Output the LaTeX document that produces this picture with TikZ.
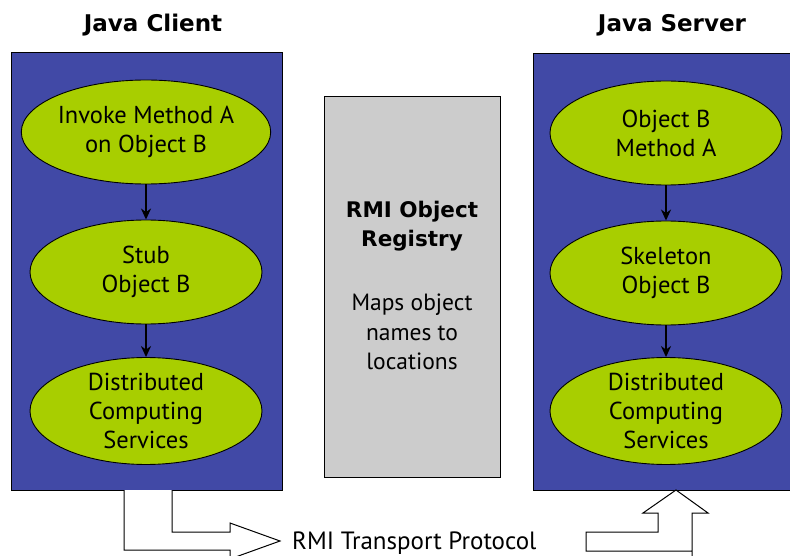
\documentclass[tikz,border=0pt]{standalone}
\usepackage{fontspec}
\setmainfont{PT Sans}
\newfontfamily\heavyfont{DejaVu Sans}
\usetikzlibrary{shapes.geometric,arrows.meta}
\definecolor{boxblue}{HTML}{4149A6}
\definecolor{ellgreen}{HTML}{A8CE00}
\definecolor{reggray}{HTML}{CCCCCC}
\begin{document}
\begin{tikzpicture}[x=1pt,y=-1pt,
  panel/.style={draw=black,line width=1pt,fill=boxblue},
  ell/.style={ellipse,draw=black,line width=0.9pt,fill=ellgreen,minimum width=232pt,minimum height=104pt,inner sep=0pt,align=center,font=\fontsize{24.5}{29}\selectfont},
  flow/.style={line width=2.6pt,-{Stealth[length=11pt,width=10pt]}},
  title/.style={font=\heavyfont\bfseries\fontsize{23}{26}\selectfont},
  hollow/.style={draw=black,line width=1pt,fill=white,line join=miter}]
\useasboundingbox (0,0) rectangle (790,556);
\begin{scope}
\clip (0,0) rectangle (790,556);
\node[title] (tcl) at (153,25) {Java Client};
\node[title] (tsv) at (672,25) {Java Server};
\draw[panel] (11,53) rectangle (282,490);
\draw[panel] (533,54) rectangle (800,490);
\coordinate (clb1) at (124,490);
\coordinate (clb2) at (172,490);
\coordinate (svb) at (676,490);
\node[draw=black,line width=1pt,fill=reggray,minimum width=176pt,minimum height=380pt,inner sep=0pt] (reg) at (412,287) {};
\node[font=\heavyfont\bfseries\fontsize{21.5}{29}\selectfont,align=center] (regt) at (412,226) {RMI Object\\Registry};
\node[font=\fontsize{23.5}{29.5}\selectfont,align=center] (regd) at (412,332) {Maps object\\names to\\locations};
\node[ell] (c1) at (146,132) {Invoke Method A\\on Object B};
\node[ell] (c2) at (146,272) {Stub\\Object B};
\node[ell] (c3) at (146,411) {Distributed\\Computing\\Services};
\node[ell] (s1) at (666,133) {Object B\\Method A};
\node[ell] (s2) at (666,273) {Skeleton\\Object B};
\node[ell] (s3) at (666,411) {Distributed\\Computing\\Services};
\draw[flow] (c1) -- (c2);
\draw[flow] (c2) -- (c3);
\draw[flow] (s1) -- (s2);
\draw[flow] (s2) -- (s3);
% client outgoing hollow arrow
\draw[hollow] (clb1) -- (124,550) -- (230,550) -- (230,559) -- (280,541) -- (230,523) -- (230,532) -- (172,532) -- (clb2);
% server incoming hollow arrow
\draw[hollow] (692,556) -- (692,513) -- (708,513) -- (svb) -- (643,513) -- (658,513) -- (658,532) -- (586,532) -- (586,551) -- (692,551);
\node[font=\fontsize{25}{29}\selectfont,anchor=base west,inner sep=0pt] (rtp) at (292,549) {RMI Transport Protocol};
\end{scope}
\end{tikzpicture}
\end{document}
